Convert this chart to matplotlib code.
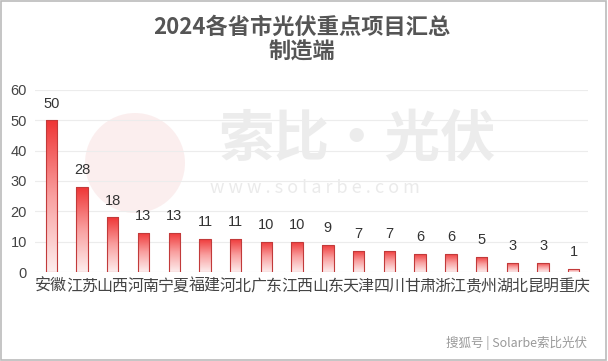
import matplotlib
matplotlib.use("Agg")
from matplotlib import pyplot as plt
from matplotlib.patches import Rectangle, Ellipse
import numpy as np

plt.rcParams['font.family'] = ['Noto Sans CJK SC', 'DejaVu Sans']

provinces = ["安徽", "江苏", "山西", "河南", "宁夏", "福建", "河北", "广东", "江西",
             "山东", "天津", "四川", "甘肃", "浙江", "贵州", "湖北", "昆明", "重庆"]
counts = [50, 28, 18, 13, 13, 11, 11, 10, 10, 9, 7, 7, 6, 6, 5, 3, 3, 1]

fig = plt.figure(figsize=(6.08, 3.61), dpi=100)
ax = fig.add_axes([0.058, 0.2465, 0.909, 0.5045])
ax.set_zorder(5)
ax.patch.set_alpha(0)

n = len(counts)
x = np.arange(n)
bw = 0.37

# gradient for the bars: red at top, pale at bottom
grad = np.linspace(0, 1, 256).reshape(-1, 1)
cmap = matplotlib.colors.LinearSegmentedColormap.from_list("rg", ["#fdeeee", "#f9a0a0", "#ef3535"])

bars = ax.bar(x, counts, width=bw, color="none", edgecolor="#c23a3a", linewidth=0.8, zorder=3)
for b in bars:
    x0, y0 = b.get_x(), b.get_y()
    w, h = b.get_width(), b.get_height()
    im = ax.imshow(grad, cmap=cmap, aspect="auto", origin="lower",
                   extent=[x0, x0 + w, y0, y0 + h], zorder=2)
    im.set_clip_path(b)

for xi, v in zip(x, counts):
    ax.text(xi, v + 3.2, str(v), ha="center", va="bottom", fontsize=10.5,
            color="#333333", family=["Liberation Sans"])

ax.set_xlim(-0.52, n - 1 + 0.46)
ax.set_ylim(0, 60)
ax.set_yticks(range(0, 61, 10))
ax.set_xticks(x)
ax.set_xticklabels(provinces, fontsize=11.5, color="#444444")
ax.tick_params(axis="y", labelsize=10.5, colors="#444444", length=0, pad=6)
for lab in ax.get_yticklabels():
    lab.set_family(["Liberation Sans"])
ax.tick_params(axis="x", length=0, pad=4)
ax.grid(axis="y", color="#ececec", linewidth=0.8, zorder=0)
for s in ax.spines.values():
    s.set_visible(False)

# title
fig.text(0.497, 0.925, "2024各省市光伏重点项目汇总", ha="center", va="center",
         fontsize=16, fontweight="bold", color="#555555")
fig.text(0.497, 0.855, "制造端", ha="center", va="center",
         fontsize=16, fontweight="bold", color="#555555")

# faint watermark
fig.patches.append(Ellipse((135 / 608, 1 - 163 / 361), 100 / 608, 100 / 361,
                           transform=fig.transFigure, facecolor="#f9e4e4",
                           edgecolor="none", alpha=0.6, zorder=0))
fig.text(0.36, 1 - 140 / 361, "索比·光伏", fontsize=40, fontweight="bold",
         color="#dddddd", alpha=0.55, va="center", zorder=1)
fig.text(0.345, 1 - 188 / 361, "w w w . s o l a r b e . c o m", fontsize=13,
         color="#e2e2e2", alpha=0.7, va="center", zorder=1)

fig.text(0.965, 1 - 343 / 361, "搜狐号 | Solarbe索比光伏", ha="right", va="center",
         fontsize=9, color="#999999")

fig.patches.append(Rectangle((0.002, 0.004), 0.995, 0.992, transform=fig.transFigure,
                             fill=False, edgecolor="#bbbbbb", linewidth=1.2))

plt.savefig("out.png", dpi=100)
